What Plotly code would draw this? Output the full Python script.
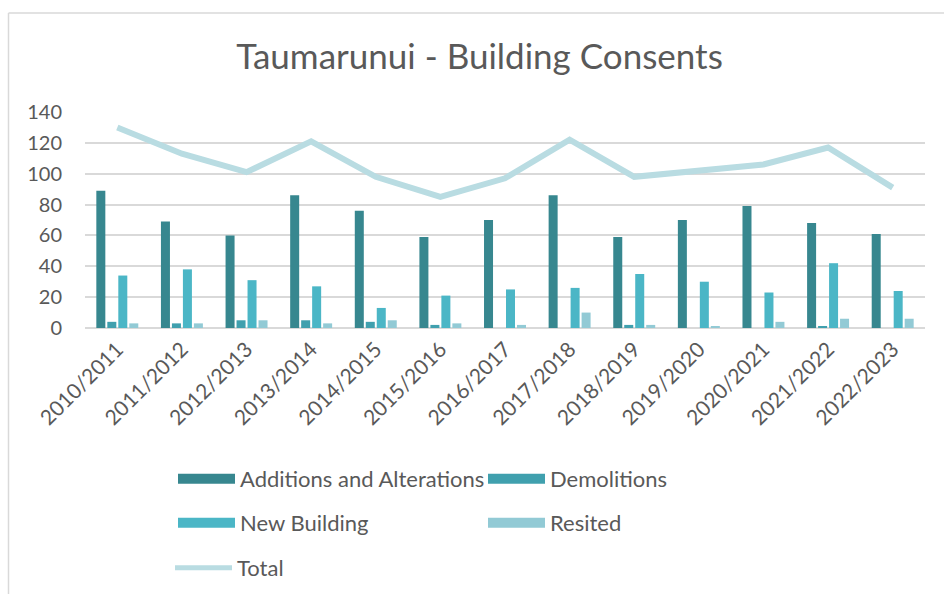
import plotly.graph_objects as go

years = ["2010/2011", "2011/2012", "2012/2013", "2013/2014", "2014/2015", "2015/2016",
         "2016/2017", "2017/2018", "2018/2019", "2019/2020", "2020/2021", "2021/2022", "2022/2023"]
additions = [89, 69, 60, 86, 76, 59, 70, 86, 59, 70, 79, 68, 61]
demolitions = [4, 3, 5, 5, 4, 2, 0, 0, 2, 0, 0, 1, 0]
new_building = [34, 38, 31, 27, 13, 21, 25, 26, 35, 30, 23, 42, 24]
resited = [3, 3, 5, 3, 5, 3, 2, 10, 2, 1, 4, 6, 6]
total = [130, 113, 101, 121, 98, 85, 97, 122, 98, 102, 106, 117, 91]

series_names = ["Additions and Alterations", "Demolitions", "New Building", "Resited"]
series_vals = [additions, demolitions, new_building, resited]
colors = ["#37878F", "#40A0AE", "#4BB6C6", "#92CAD5"]
total_color = "#B9DCE2"
text_color = "#595959"
FONT = "Lato, 'Open Sans', sans-serif"

fig = go.Figure()
for name, vals, col in zip(series_names, series_vals, colors):
    fig.add_trace(go.Bar(x=years, y=vals, name=name, marker_color=col,
                         marker_line_width=0, showlegend=False))
fig.add_trace(go.Scatter(x=years, y=total, name="Total", mode="lines",
                         line=dict(color=total_color, width=6), showlegend=False))

# legend entries (three rows, two columns)
legend_ids = ["legend", "legend", "legend2", "legend2"]
for name, col, lg in zip(series_names, colors, legend_ids):
    fig.add_trace(go.Scatter(x=[None], y=[None], name=name, mode="lines",
                             line=dict(color=col, width=13), legend=lg, showlegend=True))
fig.add_trace(go.Scatter(x=[None], y=[None], name="Total", mode="lines",
                         line=dict(color=total_color, width=5), legend="legend3", showlegend=True))

# plot-area geometry (px): x 85..925, y 112..328
L, R, T, B = 85, 925, 112, 328
W, H = 944, 594
def px_x(p):
    return (p - L) / (R - L)
def px_y(p):
    return (B - p) / (B - T)

leg_common = dict(orientation="h", xref="container", yref="container",
                  xanchor="left", yanchor="middle", entrywidth=238, entrywidthmode="pixels",
                  itemwidth=57, font=dict(family=FONT, size=22, color=text_color),
                  bgcolor="rgba(0,0,0,0)")

fig.update_layout(
    width=W, height=H,
    margin=dict(l=L, r=W - R, t=T, b=H - B),
    paper_bgcolor="white", plot_bgcolor="white",
    title=dict(text="Taumarunui - Building Consents", x=0.508, xanchor="center",
               y=(H - 57) / H, yanchor="middle",
               font=dict(family=FONT, size=35, color=text_color)),
    barmode="group", bargap=0.32, bargroupgap=0.18,
    legend=dict(x=173 / W, y=(H - 479) / H, **leg_common),
    legend2=dict(x=173 / W, y=(H - 523) / H, **leg_common),
    legend3=dict(x=170 / W, y=(H - 568) / H, **leg_common),
    xaxis=dict(tickangle=-45, tickfont=dict(family=FONT, size=21, color=text_color),
               showgrid=False, showline=False, ticks="", ticklabelstandoff=4),
    yaxis=dict(range=[0, 140], dtick=20, tickfont=dict(family=FONT, size=20, color=text_color),
               gridcolor="#D9D9D9", gridwidth=1.5, zeroline=True, zerolinecolor="#D9D9D9",
               zerolinewidth=1.5, showline=False, ticks="", ticklabelstandoff=22),
    shapes=[
        dict(type="line", xref="paper", yref="paper", x0=px_x(8.5), x1=px_x(8.5),
             y0=px_y(13), y1=px_y(600), line=dict(color="#D9D9D9", width=1.5)),
        dict(type="line", xref="paper", yref="paper", x0=px_x(8.5), x1=px_x(950),
             y0=px_y(13), y1=px_y(13), line=dict(color="#D9D9D9", width=1.5)),
    ],
)

fig.write_html("out.html", config={"displayModeBar": False},
               post_script="document.body.style.margin='0';document.body.style.overflow='hidden';")
